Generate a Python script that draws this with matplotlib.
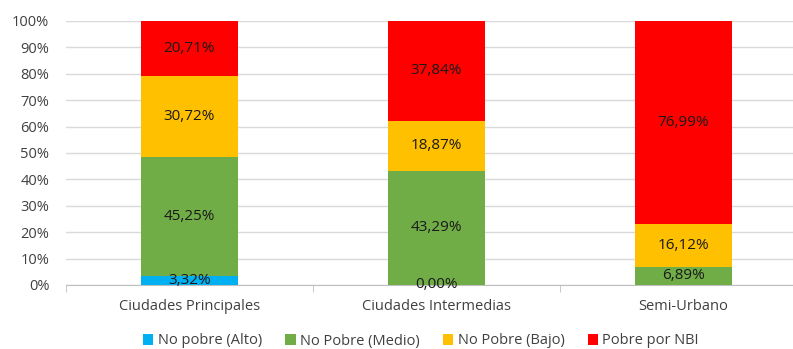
import matplotlib.pyplot as plt
import numpy as np

plt.rcParams['font.family'] = ['Liberation Sans Narrow', 'Open Sans', 'DejaVu Sans']

categories = ['Ciudades Principales', 'Ciudades Intermedias', 'Semi-Urbano']
series_names = ['No pobre (Alto)', 'No Pobre (Medio)', 'No Pobre (Bajo)', 'Pobre por NBI']
alto = [3.32, 0.00, np.nan]
medio = [45.25, 43.29, 6.89]
bajo = [30.72, 18.87, 16.12]
nbi = [20.71, 37.84, 76.99]
colors = ['#00B0F0', '#70AD47', '#FFC000', '#FF0000']

fig = plt.figure(figsize=(7.93, 3.49), dpi=100)
ax = fig.add_axes([66 / 793, 1 - 285 / 349, 741 / 793, 264 / 349])

x = np.arange(len(categories))
bottom = np.zeros(len(categories))
for name, vals, c in zip(series_names, [alto, medio, bajo, nbi], colors):
    v = np.array(vals, dtype=float)
    h = np.nan_to_num(v)
    ax.bar(x, h, 0.39, bottom=bottom, color=c, label=name, zorder=3)
    for xi, b, val in zip(x, bottom, v):
        if np.isnan(val):
            continue
        ax.text(xi, b + val / 2, f'{val:.2f}%'.replace('.', ','),
                ha='center', va='center', fontsize=11, color='#1a1a1a', zorder=4)
    bottom += h

ax.set_xlim(-0.5, 2.5)
ax.set_ylim(0, 100)
ax.set_yticks(np.arange(0, 101, 10))
ax.set_yticklabels([f'{t}%' for t in range(0, 101, 10)], fontsize=10.5, color='#404040')
ax.set_xticks(x)
ax.set_xticklabels(categories, fontsize=10.5, color='#404040')
ax.set_xticks([-0.5, 0.5, 1.5, 2.5], minor=True)
ax.tick_params(axis='x', which='major', length=0, pad=10)
ax.tick_params(axis='x', which='minor', length=5, color='#bfbfbf')
ax.tick_params(axis='y', length=0, pad=12)
ax.grid(axis='y', color='#d9d9d9', linewidth=1, zorder=0)
for s in ['top', 'right', 'left']:
    ax.spines[s].set_visible(False)
ax.spines['bottom'].set_color('#bfbfbf')

fig.legend(loc='center', bbox_to_anchor=(421 / 793, 1 - 341 / 349), ncol=4, frameon=False,
           fontsize=10.5, handlelength=0.7, handleheight=0.7, handletextpad=0.3,
           columnspacing=1.6, labelcolor='#404040')

fig.savefig('out.png', dpi=100)
